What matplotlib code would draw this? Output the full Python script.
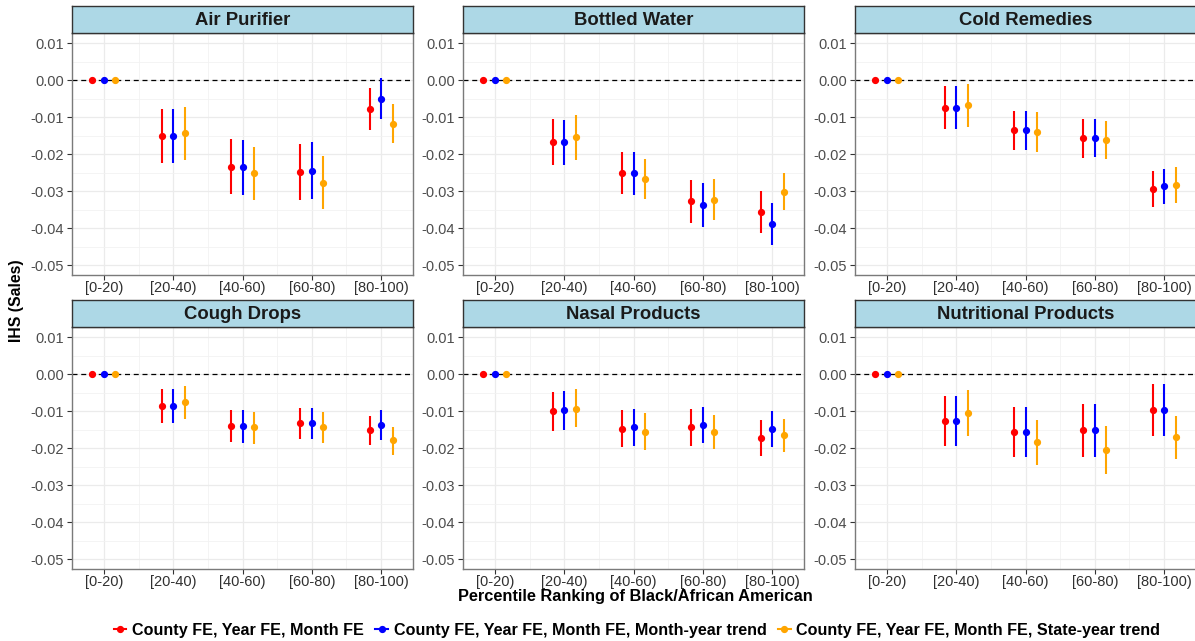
import matplotlib
matplotlib.use("Agg")
import matplotlib.pyplot as plt
from matplotlib.lines import Line2D
from matplotlib.ticker import MultipleLocator

plt.rcParams['font.family'] = ['Liberation Sans', 'DejaVu Sans']

W, H = 1195, 641

categories = ["[0-20)", "[20-40)", "[40-60)", "[60-80)", "[80-100)"]
products = ["Air Purifier", "Bottled Water", "Cold Remedies",
            "Cough Drops", "Nasal Products", "Nutritional Products"]
models = ["County FE, Year FE, Month FE",
          "County FE, Year FE, Month FE, Month-year trend",
          "County FE, Year FE, Month FE, State-year trend"]
colors = ["red", "blue", "orange"]

# estimates and 95% bounds, one row per model
air_est = [[0, -0.0150, -0.0234, -0.0249, -0.0077],
           [0, -0.0150, -0.0235, -0.0245, -0.0050],
           [0, -0.0143, -0.0251, -0.0277, -0.0117]]
air_lo = [[0, -0.0224, -0.0308, -0.0323, -0.0134],
          [0, -0.0225, -0.0310, -0.0320, -0.0105],
          [0, -0.0217, -0.0323, -0.0349, -0.0171]]
air_hi = [[0, -0.0077, -0.0159, -0.0173, -0.0022],
          [0, -0.0077, -0.0162, -0.0168, 0.0007],
          [0, -0.0071, -0.0180, -0.0206, -0.0065]]

water_est = [[0, -0.0168, -0.0250, -0.0327, -0.0356],
             [0, -0.0168, -0.0252, -0.0338, -0.0388],
             [0, -0.0154, -0.0267, -0.0323, -0.0301]]
water_lo = [[0, -0.0228, -0.0308, -0.0386, -0.0413],
            [0, -0.0229, -0.0310, -0.0398, -0.0445],
            [0, -0.0215, -0.0321, -0.0377, -0.0351]]
water_hi = [[0, -0.0105, -0.0193, -0.0269, -0.0300],
            [0, -0.0107, -0.0195, -0.0278, -0.0331],
            [0, -0.0095, -0.0213, -0.0268, -0.0251]]

cold_est = [[0, -0.0074, -0.0135, -0.0157, -0.0295],
            [0, -0.0074, -0.0135, -0.0156, -0.0287],
            [0, -0.0068, -0.0141, -0.0162, -0.0283]]
cold_lo = [[0, -0.0132, -0.0188, -0.0209, -0.0343],
           [0, -0.0133, -0.0188, -0.0208, -0.0336],
           [0, -0.0126, -0.0194, -0.0214, -0.0331]]
cold_hi = [[0, -0.0015, -0.0082, -0.0105, -0.0246],
           [0, -0.0016, -0.0083, -0.0104, -0.0239],
           [0, -0.0009, -0.0087, -0.0111, -0.0235]]

cough_est = [[0, -0.0085, -0.0139, -0.0132, -0.0151],
             [0, -0.0085, -0.0141, -0.0132, -0.0137],
             [0, -0.0076, -0.0144, -0.0143, -0.0179]]
cough_lo = [[0, -0.0132, -0.0183, -0.0175, -0.0192],
            [0, -0.0131, -0.0185, -0.0176, -0.0178],
            [0, -0.0122, -0.0188, -0.0185, -0.0218]]
cough_hi = [[0, -0.0040, -0.0096, -0.0091, -0.0112],
            [0, -0.0040, -0.0097, -0.0091, -0.0097],
            [0, -0.0032, -0.0103, -0.0103, -0.0142]]

nasal_est = [[0, -0.0100, -0.0148, -0.0144, -0.0173],
             [0, -0.0098, -0.0143, -0.0137, -0.0148],
             [0, -0.0093, -0.0155, -0.0155, -0.0165]]
nasal_lo = [[0, -0.0153, -0.0198, -0.0193, -0.0222],
            [0, -0.0151, -0.0195, -0.0186, -0.0197],
            [0, -0.0144, -0.0205, -0.0202, -0.0209]]
nasal_hi = [[0, -0.0048, -0.0098, -0.0095, -0.0125],
            [0, -0.0046, -0.0095, -0.0088, -0.0099],
            [0, -0.0041, -0.0106, -0.0109, -0.0120]]

nutri_est = [[0, -0.0126, -0.0157, -0.0151, -0.0096],
             [0, -0.0126, -0.0157, -0.0152, -0.0096],
             [0, -0.0106, -0.0184, -0.0204, -0.0170]]
nutri_lo = [[0, -0.0193, -0.0225, -0.0223, -0.0167],
            [0, -0.0193, -0.0224, -0.0224, -0.0168],
            [0, -0.0168, -0.0245, -0.0269, -0.0230]]
nutri_hi = [[0, -0.0059, -0.0088, -0.0080, -0.0026],
            [0, -0.0059, -0.0088, -0.0081, -0.0026],
            [0, -0.0042, -0.0123, -0.0140, -0.0113]]

panels = [(air_est, air_lo, air_hi), (water_est, water_lo, water_hi),
          (cold_est, cold_lo, cold_hi), (cough_est, cough_lo, cough_hi),
          (nasal_est, nasal_lo, nasal_hi), (nutri_est, nutri_lo, nutri_hi)]

fig = plt.figure(figsize=(W / 100, H / 100), dpi=100)


def px_axes(x0, y0, x1, y1):
    # pixel box (top-left origin) -> figure axes
    return fig.add_axes([x0 / W, 1 - y1 / H, (x1 - x0) / W, (y1 - y0) / H])


col_x = [72, 463, 855]
panel_w = 341
row_y = [(6, 33, 275), (300, 327, 569)]
offsets = [-1 / 6, 0, 1 / 6]
xs = list(range(1, len(categories) + 1))

for i, (est, lo, hi) in enumerate(panels):
    r, c = divmod(i, 3)
    x0 = col_x[c]
    s_top, p_top, p_bot = row_y[r]

    ax = px_axes(x0, p_top, x0 + panel_w, p_bot)
    ax.set_xlim(0.54, 5.46)
    ax.set_ylim(-0.0527, 0.0128)
    ax.yaxis.set_major_locator(MultipleLocator(0.01))
    ax.yaxis.set_minor_locator(MultipleLocator(0.005))
    ax.set_xticks(xs)
    ax.set_xticks([x + 0.5 for x in xs[:-1]], minor=True)
    ax.set_xticklabels(categories)
    ax.set_yticks([0.01, 0, -0.01, -0.02, -0.03, -0.04, -0.05])
    ax.set_yticklabels(["0.01", "0.00", "-0.01", "-0.02", "-0.03", "-0.04", "-0.05"])
    ax.grid(which='major', color='#ebebeb', linewidth=0.9)
    ax.grid(which='minor', color='#f2f2f2', linewidth=0.6)
    ax.set_axisbelow(True)
    ax.tick_params(axis='both', which='major', length=3.5, width=0.8,
                   color='#333333', labelsize=10.5)
    ax.tick_params(axis='x', labelcolor='#303030', pad=1)
    ax.tick_params(axis='y', labelcolor='#4d4d4d', pad=2)
    ax.tick_params(which='minor', length=0)
    for sp in ax.spines.values():
        sp.set_color('#7a7a7a')
        sp.set_linewidth(1.0)

    ax.axhline(0, color='black', linestyle=(0, (4, 3)), linewidth=0.9, zorder=1)

    for m in range(3):
        px = [x + offsets[m] for x in xs]
        yerr = [[e - l for e, l in zip(est[m], lo[m])],
                [h - e for e, h in zip(est[m], hi[m])]]
        ax.errorbar(px, est[m], yerr=yerr, fmt='o', color=colors[m],
                    markersize=4.2, elinewidth=1.5, capsize=0, zorder=3)

    # facet strip
    sax = px_axes(x0, s_top, x0 + panel_w, p_top)
    sax.set_facecolor('#add8e6')
    sax.set_xticks([])
    sax.set_yticks([])
    for sp in sax.spines.values():
        sp.set_color('#333333')
        sp.set_linewidth(1.0)
    sax.text(0.5, 0.48, products[i], ha='center', va='center',
             fontsize=13.3, fontweight='bold', color='#1a1a1a',
             transform=sax.transAxes)

fig.text(17 / W, 1 - 301 / H, "IHS (Sales)", rotation=90, ha='center',
         va='center', fontsize=11.3, fontweight='bold')
fig.text(635 / W, 1 - 597 / H, "Percentile Ranking of Black/African American",
         ha='center', va='center', fontsize=11.8, fontweight='bold')

handles = [Line2D([], [], color=col, marker='o', markersize=4.2, linewidth=1.5)
           for col in colors]
fig.legend(handles, models, loc='center', bbox_to_anchor=(637 / W, 1 - 630 / H),
           ncol=3, frameon=False, handlelength=0.8, handletextpad=0.35,
           columnspacing=0.7, prop={'size': 11.6, 'weight': 'bold'})

fig.savefig("out.png", dpi=100)
